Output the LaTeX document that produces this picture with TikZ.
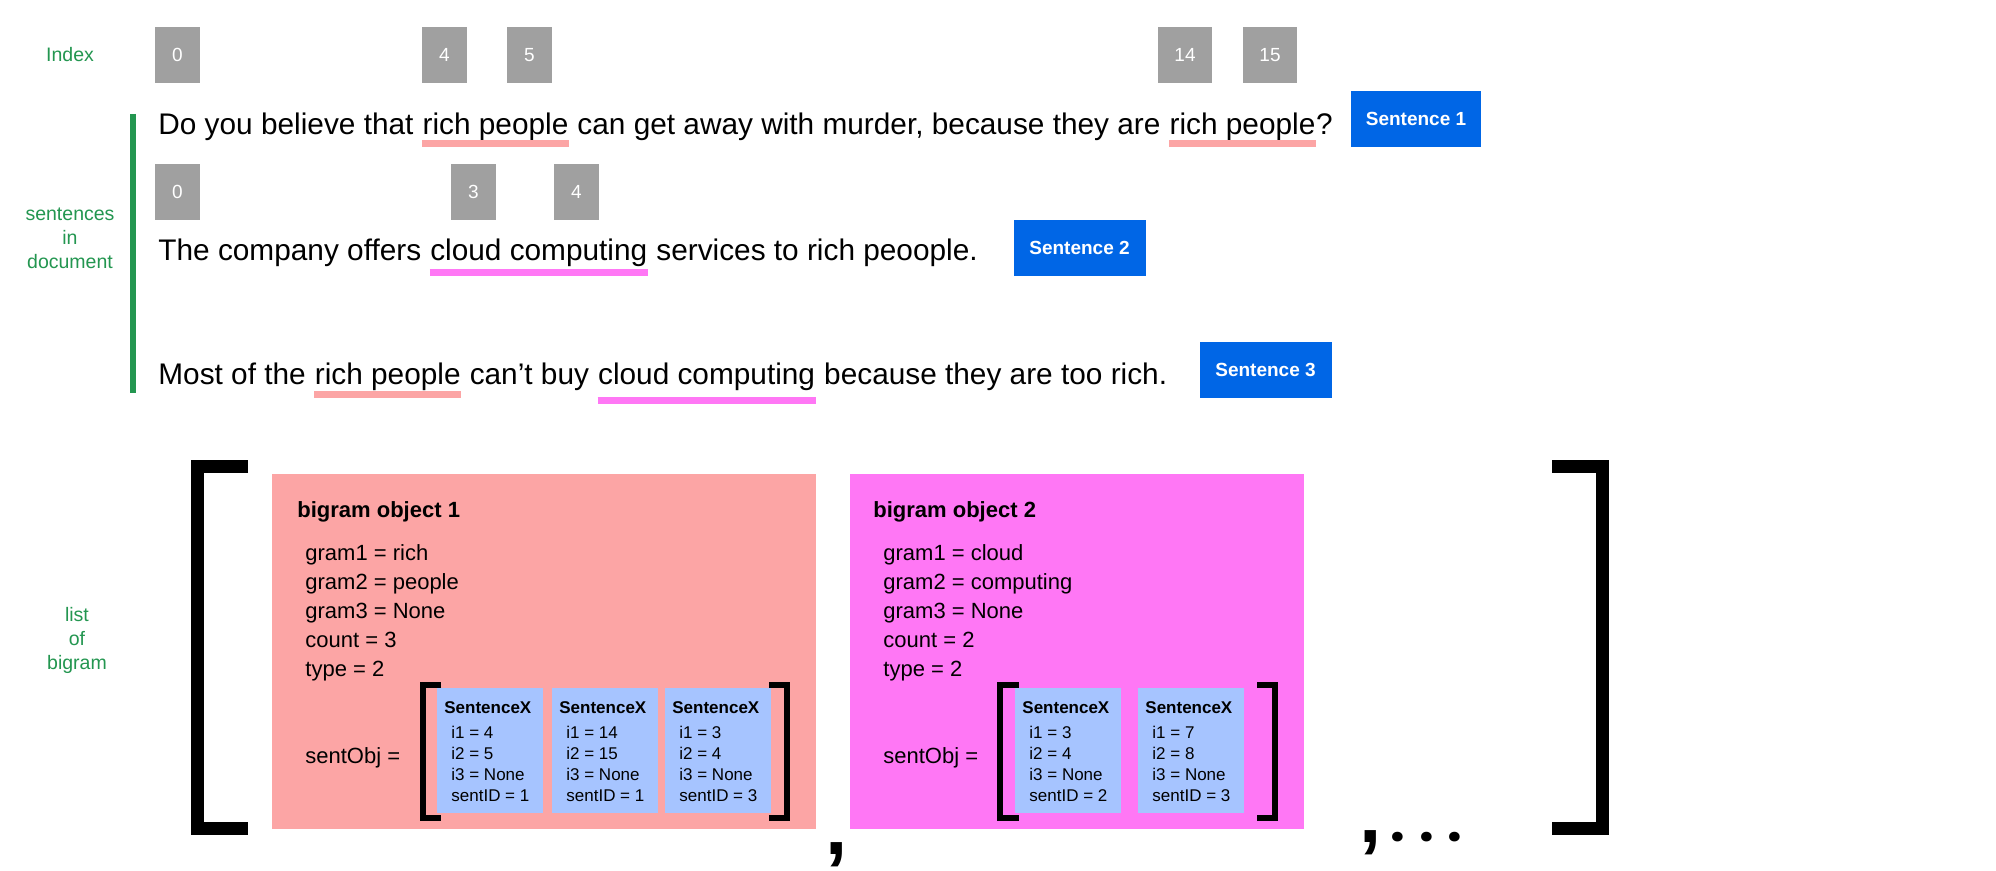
\documentclass[tikz,border=0pt]{standalone}
\usepackage{fontspec}
\setmainfont{Liberation Sans}
\newfontfamily\popfont{Poppins}
\definecolor{idxgreen}{RGB}{35,150,80}
\definecolor{idxgray}{RGB}{160,160,160}
\definecolor{sentblue}{RGB}{0,102,230}
\definecolor{salmonpink}{RGB}{252,165,165}
\definecolor{magpink}{RGB}{255,119,245}
\definecolor{lightblue}{RGB}{166,196,255}
\newcommand\sentfont{\fontsize{14.9}{18}\selectfont}
\begin{document}
\begin{tikzpicture}[x=0.5pt,y=-0.5pt,
  lbl/.style={text=idxgreen, font=\fontsize{9.75}{12}\selectfont, align=center, inner sep=0pt},
  idxbox/.style={fill=idxgray, text=white, font=\fontsize{9.5}{11}\selectfont, minimum height=28pt, minimum width=22.5pt, inner sep=0pt},
  idxwide/.style={idxbox, minimum width=27pt},
  sentlabel/.style={fill=sentblue, text=white, font=\bfseries\fontsize{9.5}{11}\selectfont, minimum height=28pt, minimum width=66pt, inner sep=0pt},
  sent/.style={anchor=base west, inner sep=0pt, font=\sentfont},
  gap/.style={xshift=4.14pt},
  ulsalmon/.style={draw=salmonpink, line width=3.5pt},
  ulmag/.style={draw=magpink, line width=3.5pt},
  objbox/.style={anchor=north west, minimum height=177.5pt, inner sep=0pt},
  objtitle/.style={anchor=base west, inner sep=0pt, font=\bfseries\fontsize{11}{13}\selectfont},
  attr/.style={anchor=base west, inner sep=0pt, font=\fontsize{11}{13}\selectfont},
  sxbox/.style={anchor=north west, fill=lightblue, minimum width=53pt, minimum height=62.5pt, inner sep=0pt},
  sxtitle/.style={anchor=base west, inner sep=0pt, font=\bfseries\fontsize{8.5}{10}\selectfont},
  sxline/.style={anchor=base west, inner sep=0pt, font=\fontsize{8.5}{10}\selectfont},
  bigbracket/.style={draw=black, line width=6.5pt, miter limit=10},
  smallbracket/.style={draw=black, line width=3pt, miter limit=10},
  punct/.style={anchor=base west, inner sep=0pt, font=\bfseries\fontsize{40}{44}\selectfont},
  dotmark/.style={anchor=base, inner sep=0pt, font=\popfont\bfseries\fontsize{26}{30}\selectfont}
]
\fill[white] (0,0) rectangle (1996,871);
\useasboundingbox (0,0) rectangle (1996,871);

% side labels
\node[lbl] (lindex) at (70,55) {Index};
\node[lbl] (lsent) at (70,238) {sentences\\in\\document};
\node[lbl] (llist) at (77,640) {list\\of\\bigram};
\draw[idxgreen, line width=3pt] (133,114) -- (133,393);

% index boxes
\node[idxbox] (i10) at (177.5,55) {0};
\node[idxbox] (i14) at (444.5,55) {4};
\node[idxbox] (i15) at (529.5,55) {5};
\node[idxwide] (i114) at (1185,55) {14};
\node[idxwide] (i115) at (1270,55) {15};
\node[idxbox] (i20) at (177.5,192) {0};
\node[idxbox] (i23) at (473.5,192) {3};
\node[idxbox] (i24) at (576.5,192) {4};

% sentence 1
\node[sent] (s1a) at (158,135) {Do you believe that};
\node[sent] (s1b) at ([gap]s1a.base east) {rich people};
\node[sent] (s1c) at ([gap]s1b.base east) {can get away with murder, because they are};
\node[sent] (s1d) at ([gap]s1c.base east) {rich people};
\node[sent] (s1e) at (s1d.base east) {?};
\draw[ulsalmon] ([yshift=-4.25pt]s1b.base west) -- ([yshift=-4.25pt]s1b.base east);
\draw[ulsalmon] ([yshift=-4.25pt]s1d.base west) -- ([yshift=-4.25pt]s1d.base east);
\node[sentlabel, minimum width=65pt] (lab1) at (1416,119) {Sentence 1};

% sentence 2
\node[sent] (s2a) at (158,261) {The company offers};
\node[sent] (s2b) at ([gap]s2a.base east) {cloud computing};
\node[sent] (s2c) at ([gap]s2b.base east) {services to rich peoople.};
\draw[ulmag] ([yshift=-5.75pt]s2b.base west) -- ([yshift=-5.75pt]s2b.base east);
\node[sentlabel] (lab2) at (1079.5,248) {Sentence 2};

% sentence 3
\node[sent] (s3a) at (158,385) {Most of the};
\node[sent] (s3b) at ([gap]s3a.base east) {rich people};
\node[sent] (s3c) at ([gap]s3b.base east) {can’t buy};
\node[sent] (s3d) at ([gap]s3c.base east) {cloud computing};
\node[sent] (s3e) at ([gap]s3d.base east) {because they are too rich.};
\draw[ulsalmon] ([yshift=-4.75pt]s3b.base west) -- ([yshift=-4.75pt]s3b.base east);
\draw[ulmag] ([yshift=-7.75pt]s3d.base west) -- ([yshift=-7.75pt]s3d.base east);
\node[sentlabel] (lab3) at (1265.5,370) {Sentence 3};

% big brackets
\draw[bigbracket] (248,466) -- (197,466) -- (197,828.5) -- (248,828.5);
\draw[bigbracket] (1552,466) -- (1602.5,466) -- (1602.5,828.5) -- (1552,828.5);

% bigram object 1
\node[objbox, fill=salmonpink, minimum width=272pt] (o1) at (272,474) {};
\node[objtitle] (o1t) at (297,517) {bigram object 1};
\foreach \t [count=\i from 0] in {gram1 = rich, gram2 = people, gram3 = None, count = 3, type = 2}
  \node[attr] (o1a\i) at (305,{560+29*\i}) {\t};
\node[attr] (o1s) at (305,763) {sentObj =};
\draw[smallbracket] (441,685) -- (423,685) -- (423,818) -- (441,818);
\foreach \bx/\n/\ia/\ib/\sid in {437/b11/4/5/1, 552/b12/14/15/1, 665/b13/3/4/3} {
  \node[sxbox] (\n) at (\bx,688) {};
  \node[sxtitle] (\n-t) at ({\bx+7},713) {SentenceX};
  \node[sxline] (\n-1) at ({\bx+14},738) {i1 = \ia};
  \node[sxline] (\n-2) at ({\bx+14},759) {i2 = \ib};
  \node[sxline] (\n-3) at ({\bx+14},780) {i3 = None};
  \node[sxline] (\n-4) at ({\bx+14},801) {sentID = \sid};
}
\draw[smallbracket] (769,685) -- (787,685) -- (787,818) -- (769,818);

% bigram object 2
\node[objbox, fill=magpink, minimum width=227pt] (o2) at (850,474) {};
\node[objtitle] (o2t) at (873,517) {bigram object 2};
\foreach \t [count=\i from 0] in {gram1 = cloud, gram2 = computing, gram3 = None, count = 2, type = 2}
  \node[attr] (o2a\i) at (883,{560+29*\i}) {\t};
\node[attr] (o2s) at (883,763) {sentObj =};
\draw[smallbracket] (1019,685) -- (1000,685) -- (1000,818) -- (1019,818);
\foreach \bx/\n/\ia/\ib/\sid in {1015/b21/3/4/2, 1138/b22/7/8/3} {
  \node[sxbox] (\n) at (\bx,688) {};
  \node[sxtitle] (\n-t) at ({\bx+7},713) {SentenceX};
  \node[sxline] (\n-1) at ({\bx+14},738) {i1 = \ia};
  \node[sxline] (\n-2) at ({\bx+14},759) {i2 = \ib};
  \node[sxline] (\n-3) at ({\bx+14},780) {i3 = None};
  \node[sxline] (\n-4) at ({\bx+14},801) {sentID = \sid};
}
\draw[smallbracket] (1257,685) -- (1275,685) -- (1275,818) -- (1257,818);

% separators
\node[punct] (comma1) at (825,854) {,};
\node[punct] (comma2) at (1359,842) {,};
\node[dotmark] (dot1) at (1398,841) {.};
\node[dotmark] (dot2) at (1426.5,841) {.};
\node[dotmark] (dot3) at (1455,841) {.};
\end{tikzpicture}
\end{document}
